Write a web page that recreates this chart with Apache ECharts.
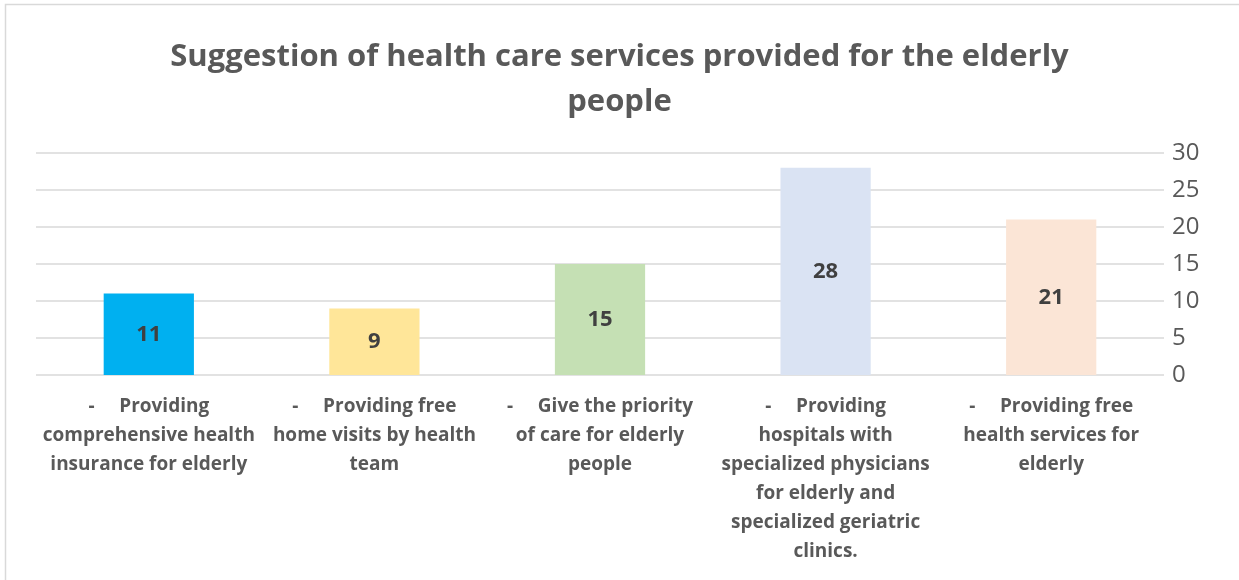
<!DOCTYPE html>
<html><head><meta charset="utf-8">
<script src="https://cdn.jsdelivr.net/npm/echarts@6/dist/echarts.min.js"></script>
<style>html,body{margin:0;padding:0;background:#fff}#c{width:1239px;height:580px}</style>
</head><body><div id="c"></div>
<script>
const categories = [
  "-     Providing\ncomprehensive health\ninsurance for elderly",
  "-     Providing free\nhome visits by health\nteam",
  "-     Give the priority\nof care for elderly\npeople",
  "-     Providing\nhospitals with\nspecialized physicians\nfor elderly and\nspecialized geriatric\nclinics.",
  "-     Providing free\nhealth services for\nelderly"
];
const values = [11, 9, 15, 28, 21];
const barColors = ["#00B0F0", "#FFE699", "#C5E0B4", "#DAE3F3", "#FBE5D6"];
const titleText = "Suggestion of health care services provided for the elderly\npeople";

const chart = echarts.init(document.getElementById('c'));
chart.setOption({
  animation: false,
  backgroundColor: '#fff',
  graphic: [{type: 'rect', shape: {x: 5.5, y: 4.5, width: 1300, height: 700}, style: {fill: 'none', stroke: '#d9d9d9', lineWidth: 1.5}}],
  title: {
    text: titleText, left: 'center', top: 30,
    textStyle: {fontFamily: 'Open Sans', fontWeight: 'bold', fontSize: 31, color: '#595959', lineHeight: 45}
  },
  grid: {left: 36, right: 75, top: 153, bottom: 205, containLabel: false},
  xAxis: {
    type: 'category', data: categories,
    axisLine: {show: false}, axisTick: {show: false},
    axisLabel: {interval: 0, margin: 17, fontFamily: 'Open Sans', fontWeight: 'bold', fontSize: 19, color: '#595959', lineHeight: 29, verticalAlign: 'top'}
  },
  yAxis: {
    type: 'value', position: 'right', min: 0, max: 30, interval: 5,
    axisLine: {show: false}, axisTick: {show: false},
    axisLabel: {margin: 8, fontFamily: 'Open Sans', fontSize: 24, color: '#595959'},
    splitLine: {lineStyle: {color: '#d9d9d9', width: 1.5}}
  },
  series: [{
    type: 'bar', barWidth: '40%',
    data: values.map((v, i) => ({value: v, itemStyle: {color: barColors[i]}})),
    label: {show: true, position: 'inside', fontFamily: 'Open Sans', fontWeight: 'bold', fontSize: 22, color: '#404040'}
  }]
});
</script></body></html>
